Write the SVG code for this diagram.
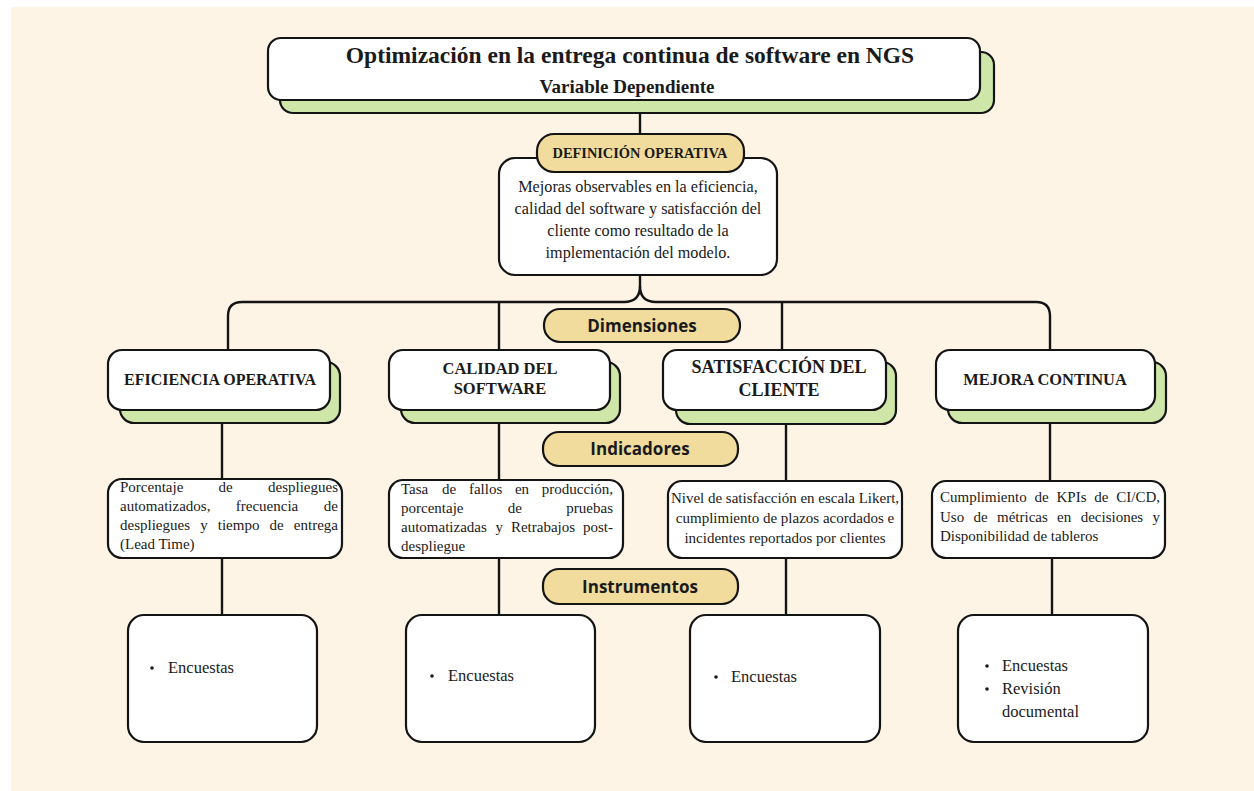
<svg xmlns="http://www.w3.org/2000/svg" width="1254" height="791" viewBox="0 0 1254 791">
<style>
.box{fill:#ffffff;stroke:#141414;stroke-width:2.2}
.sh{fill:#cfe6a9;stroke:#141414;stroke-width:2.2}
.pill{fill:#f1dc9d;stroke:#141414;stroke-width:2.2}
.ln{fill:none;stroke:#141414;stroke-width:2.4}
.serif{font-family:"Liberation Serif","Times New Roman",serif;fill:#1a1a1a}
.b{font-weight:bold}
.ttl{font-size:23.5px}
.sub{font-size:19px}
.def{font-size:16.2px}
.ind{font-size:15px}
.ins{font-size:16.5px}
.lab{font-family:"Open Sans","Noto Sans",sans-serif;font-weight:bold;font-size:17px;fill:#1a1a1a}
.c{text-anchor:middle}
.e{text-anchor:end}
</style>
<rect x="0" y="0" width="1254" height="791" fill="#ffffff"/>
<rect x="11" y="7" width="1243" height="784" fill="#fef4e6"/>

<g id="connectors">
<path class="ln" d="M640 100 V135"/>
<path class="ln" d="M640 274 V286 Q640 302 624 302 H242 Q228 302 228 316 V352"/>
<path class="ln" d="M640 286 Q640 302 656 302 H1036 Q1050 302 1050 316 V352"/>
<path class="ln" d="M499 302 V352"/>
<path class="ln" d="M782 302 V352"/>
<path class="ln" d="M222 420 V480"/>
<path class="ln" d="M499 420 V482"/>
<path class="ln" d="M786 420 V482"/>
<path class="ln" d="M1050 420 V482"/>
<path class="ln" d="M222 556 V617"/>
<path class="ln" d="M499 556 V617"/>
<path class="ln" d="M786 556 V617"/>
<path class="ln" d="M1052 556 V617"/>
</g>

<g id="title">
<rect class="sh" x="280" y="52" width="714" height="61" rx="13"/>
<rect class="box" x="268" y="38" width="712" height="62" rx="13"/>
<text class="serif b ttl c" x="630" y="63">Optimización en la entrega continua de software en NGS</text>
<text class="serif b sub c" x="627" y="93">Variable Dependiente</text>
</g>

<g id="definicion">
<rect class="box" x="499" y="158" width="278" height="117" rx="16"/>
<text class="serif def c" x="638" y="192">Mejoras observables en la eficiencia,</text>
<text class="serif def c" x="638" y="214">calidad del software y satisfacción del</text>
<text class="serif def c" x="638" y="236">cliente como resultado de la</text>
<text class="serif def c" x="638" y="258">implementación del modelo.</text>
</g>

<g id="definicion-operativa">
<rect class="pill" x="537" y="134" width="207" height="38" rx="17"/>
<text class="serif b c" x="640" y="158" font-size="14.4">DEFINICIÓN OPERATIVA</text>
</g>

<g id="dimensiones">
<rect class="pill" x="544" y="309" width="196" height="33" rx="16"/>
<text class="lab c" x="642" y="332">Dimensiones</text>
</g>

<g id="eficiencia">
<rect class="sh" x="120" y="362" width="220" height="61" rx="14"/>
<rect class="box" x="108" y="350" width="222" height="60" rx="14"/>
<text class="serif b c" x="220" y="385" font-size="16">EFICIENCIA OPERATIVA</text>
</g>

<g id="calidad">
<rect class="sh" x="401" y="362" width="219" height="61" rx="14"/>
<rect class="box" x="389" y="350" width="221" height="60" rx="14"/>
<text class="serif b c" x="500" y="374" font-size="16.5">CALIDAD DEL</text>
<text class="serif b c" x="500" y="394" font-size="16.5">SOFTWARE</text>
</g>

<g id="satisfaccion">
<rect class="sh" x="676" y="362" width="220" height="62" rx="14"/>
<rect class="box" x="663" y="350" width="223" height="60" rx="14"/>
<text class="serif b c" x="779" y="373" font-size="18">SATISFACCIÓN DEL</text>
<text class="serif b c" x="779" y="396" font-size="18">CLIENTE</text>
</g>

<g id="mejora">
<rect class="sh" x="948" y="362" width="218" height="61" rx="14"/>
<rect class="box" x="936" y="350" width="219" height="60" rx="14"/>
<text class="serif b c" x="1045" y="385" font-size="16.4">MEJORA CONTINUA</text>
</g>

<g id="indicadores">
<rect class="pill" x="543" y="432" width="195" height="34" rx="16"/>
<text class="lab c" x="640" y="455">Indicadores</text>
</g>

<g id="ind-eficiencia">
<rect class="box" x="108" y="479" width="234" height="79" rx="14"/>
<text class="serif ind" x="120" y="492">Porcentaje</text>
<text class="serif ind c" x="225.6" y="492">de</text>
<text class="serif ind e" x="338" y="492">despliegues</text>
<text class="serif ind" x="120" y="511">automatizados,</text>
<text class="serif ind c" x="267" y="511">frecuencia</text>
<text class="serif ind e" x="338" y="511">de</text>
<text class="serif ind" x="120" y="530">despliegues</text>
<text class="serif ind c" x="203.9" y="530">y</text>
<text class="serif ind c" x="238.6" y="530">tiempo</text>
<text class="serif ind c" x="276.6" y="530">de</text>
<text class="serif ind e" x="338" y="530">entrega</text>
<text class="serif ind" x="120" y="549">(Lead Time)</text>
</g>

<g id="ind-calidad">
<rect class="box" x="389" y="480" width="234" height="78" rx="14"/>
<text class="serif ind" x="401" y="494">Tasa</text>
<text class="serif ind c" x="449.1" y="494">de</text>
<text class="serif ind c" x="485.6" y="494">fallos</text>
<text class="serif ind c" x="522" y="494">en</text>
<text class="serif ind e" x="613" y="494">producción,</text>
<text class="serif ind" x="401" y="513">porcentaje</text>
<text class="serif ind c" x="514.9" y="513">de</text>
<text class="serif ind e" x="613" y="513">pruebas</text>
<text class="serif ind" x="401" y="532">automatizadas</text>
<text class="serif ind c" x="499.3" y="532">y</text>
<text class="serif ind c" x="543" y="532">Retrabajos</text>
<text class="serif ind e" x="613" y="532">post-</text>
<text class="serif ind" x="401" y="551">despliegue</text>
</g>

<g id="ind-satisfaccion">
<rect class="box" x="668" y="481" width="234" height="77" rx="14"/>
<text class="serif ind c" x="785" y="503">Nivel de satisfacción en escala Likert,</text>
<text class="serif ind c" x="785" y="523">cumplimiento de plazos acordados e</text>
<text class="serif ind c" x="785" y="543">incidentes reportados por clientes</text>
</g>

<g id="ind-mejora">
<rect class="box" x="932" y="481" width="233" height="77" rx="14"/>
<text class="serif ind" x="940" y="502">Cumplimiento</text>
<text class="serif ind c" x="1041.6" y="502">de</text>
<text class="serif ind c" x="1071.5" y="502">KPIs</text>
<text class="serif ind c" x="1101.4" y="502">de</text>
<text class="serif ind e" x="1160" y="502">CI/CD,</text>
<text class="serif ind" x="940" y="522">Uso</text>
<text class="serif ind c" x="980.6" y="522">de</text>
<text class="serif ind c" x="1022.4" y="522">métricas</text>
<text class="serif ind c" x="1064.2" y="522">en</text>
<text class="serif ind c" x="1111.9" y="522">decisiones</text>
<text class="serif ind e" x="1160" y="522">y</text>
<text class="serif ind" x="940" y="541">Disponibilidad de tableros</text>
</g>

<g id="instrumentos">
<rect class="pill" x="543" y="569" width="195" height="35" rx="16"/>
<text class="lab c" x="640" y="593">Instrumentos</text>
</g>

<g id="ins-eficiencia">
<rect class="box" x="128" y="615" width="189" height="127" rx="16"/>
<circle cx="152" cy="668" r="1.8" fill="#1a1a1a"/>
<text class="serif ins" x="168" y="673">Encuestas</text>
</g>

<g id="ins-calidad">
<rect class="box" x="406" y="615" width="189" height="127" rx="16"/>
<circle cx="432" cy="676" r="1.8" fill="#1a1a1a"/>
<text class="serif ins" x="448" y="681">Encuestas</text>
</g>

<g id="ins-satisfaccion">
<rect class="box" x="690" y="615" width="190" height="127" rx="16"/>
<circle cx="716" cy="677" r="1.8" fill="#1a1a1a"/>
<text class="serif ins" x="731" y="682">Encuestas</text>
</g>

<g id="ins-mejora">
<rect class="box" x="958" y="615" width="190" height="127" rx="16"/>
<circle cx="987" cy="666" r="1.8" fill="#1a1a1a"/>
<text class="serif ins" x="1002" y="671">Encuestas</text>
<circle cx="987" cy="689" r="1.8" fill="#1a1a1a"/>
<text class="serif ins" x="1002" y="694">Revisión</text>
<text class="serif ins" x="1002" y="717">documental</text>
</g>
</svg>
